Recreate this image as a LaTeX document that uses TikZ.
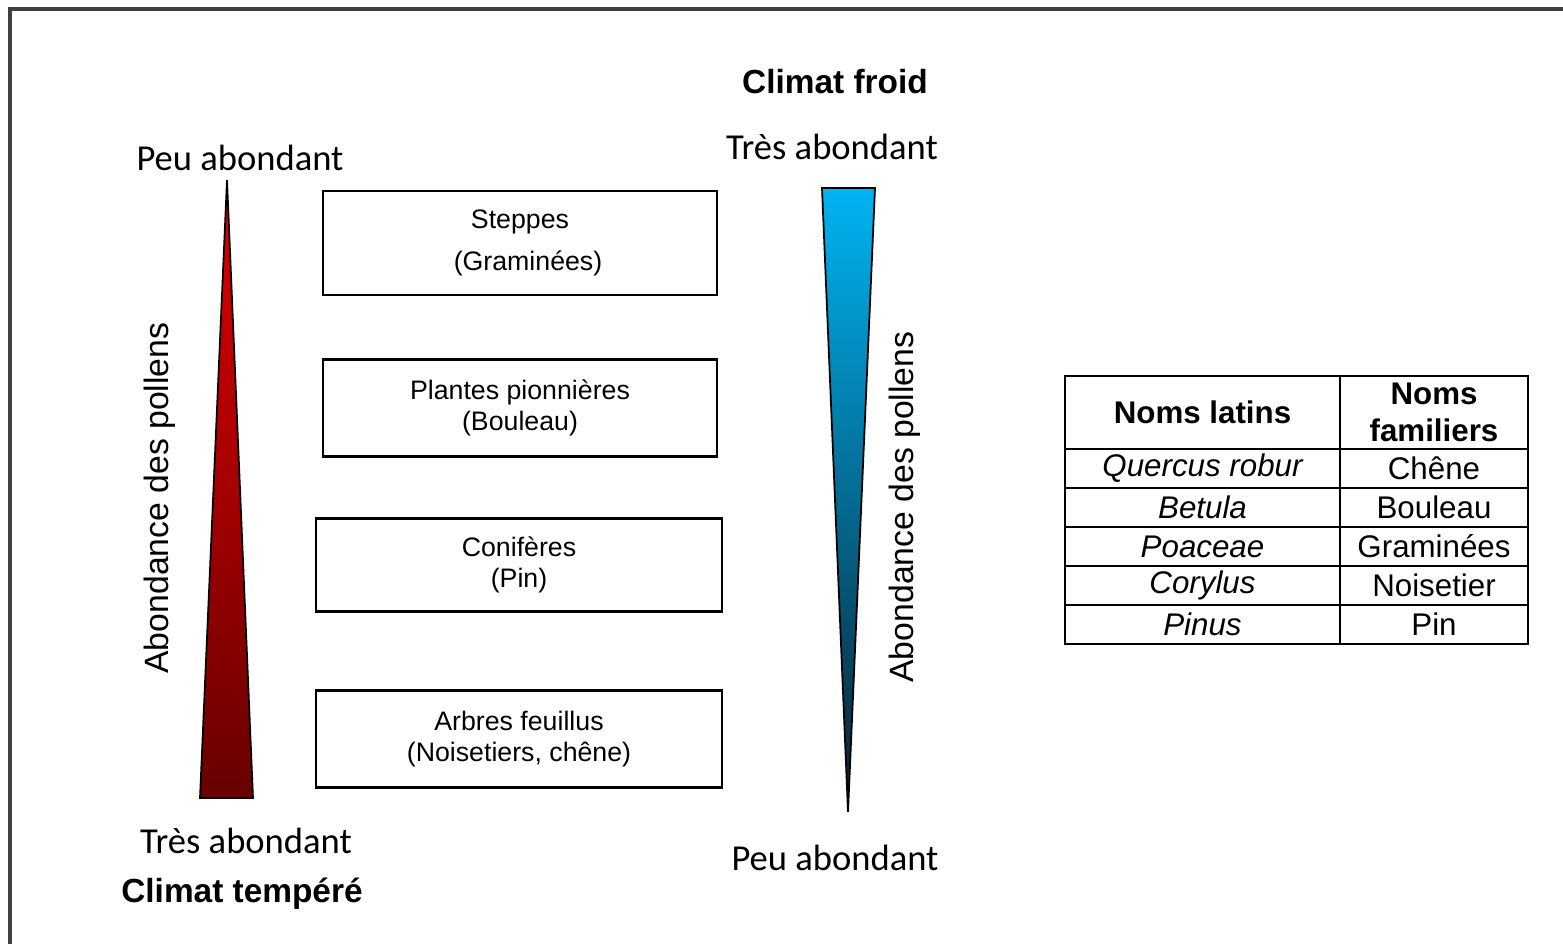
\documentclass[tikz,border=0pt]{standalone}
\usepackage{fontspec}
\setmainfont{Liberation Sans}
\newfontfamily\calibri{Carlito}
\usetikzlibrary{positioning,calc}
\definecolor{FrameGray}{HTML}{404040}
\definecolor{HotRed}{HTML}{E00000}
\definecolor{DarkRed}{HTML}{680000}
\definecolor{SkyBlue}{HTML}{00B4F2}
\definecolor{NightBlue}{HTML}{0A2030}

\begin{document}
\begin{tikzpicture}[x=0.01cm,y=-0.01cm,
  veg/.style={draw,line width=0.6pt,inner sep=0pt,align=center,
              font=\fontsize{7.6}{8.9}\selectfont},
  lvl/.style={font=\calibri\fontsize{10.4}{12}\selectfont},
  clim/.style={font=\bfseries\fontsize{9.5}{11}\selectfont},
  axis/.style={rotate=90,font=\fontsize{9.6}{11}\selectfont},
  cell/.style={draw,line width=0.6pt,inner sep=0pt,align=center,
               font=\fontsize{8.9}{10.4}\selectfont}]
\useasboundingbox (0,0) rectangle (1563,944);
\draw[FrameGray,line width=0.9pt] (1563,9) -- (10,9) -- (10,944);

% temperate side
\coordinate (ra) at (227,180);
\coordinate (rl) at (200,798);
\coordinate (rr) at (253,798);
\draw[line width=0.5pt,top color=HotRed,bottom color=DarkRed] (ra) -- (rr) -- (rl) -- cycle;
\node[lvl] (peuL) at (240,158) {Peu abondant};
\node[lvl] (tresL) at (246,841) {Très abondant};
\node[clim] (tempere) at (242,894) {Climat tempéré};
\node[axis] (axL) at (160,498) {Abondance des pollens};

% cold side
\coordinate (bl) at (822,188);
\coordinate (br) at (875,188);
\coordinate (ba) at (848,812);
\draw[line width=0.5pt,top color=SkyBlue,bottom color=NightBlue] (bl) -- (br) -- (ba) -- cycle;
\node[clim] (froid) at (835,82) {Climat froid};
\node[lvl] (tresR) at (832,147) {Très abondant};
\node[lvl] (peuR) at (835,858) {Peu abondant};
\node[axis] (axR) at (905,507) {Abondance des pollens};

% vegetation boxes
\node[veg,minimum width=3.94cm,minimum height=1.04cm] (steppe) at (520,243)
  {Steppes\\[3.2pt]\hspace*{0.6em}(Graminées)};
\node[veg,minimum width=3.94cm,minimum height=0.97cm] (pionnier) at (520,408)
  {Plantes pionnières\\(Bouleau)};
\node[veg,minimum width=4.06cm,minimum height=0.93cm] (conifere) at (519,565)
  {Conifères\\(Pin)};
\node[veg,minimum width=4.06cm,minimum height=0.97cm] (feuillu) at (519,739)
  {Arbres feuillus\\(Noisetiers, chêne)};

% table of names
\node[cell,font=\bfseries\fontsize{8.9}{10.4}\selectfont,minimum width=2.75cm,minimum height=0.73cm]
  (hlat) at (1202.5,412.5) {Noms latins};
\node[cell,font=\bfseries\fontsize{8.9}{10.6}\selectfont,minimum width=1.88cm,minimum height=0.73cm]
  (hfam) at (1434,412.5) {Noms\\familiers};
\foreach \lat/\fam [count=\i] in {Quercus robur/Chêne,Betula/Bouleau,
    Poaceae/Graminées,Corylus/Noisetier,Pinus/Pin}{
  \node[cell,minimum width=2.75cm,minimum height=0.39cm] (lat\i)
    at (1202.5,449+39*\i-19.5) {\itshape\lat};
  \node[cell,minimum width=1.88cm,minimum height=0.39cm] (fam\i)
    at (1434,449+39*\i-19.5) {\fam};
}
\end{tikzpicture}
\end{document}
